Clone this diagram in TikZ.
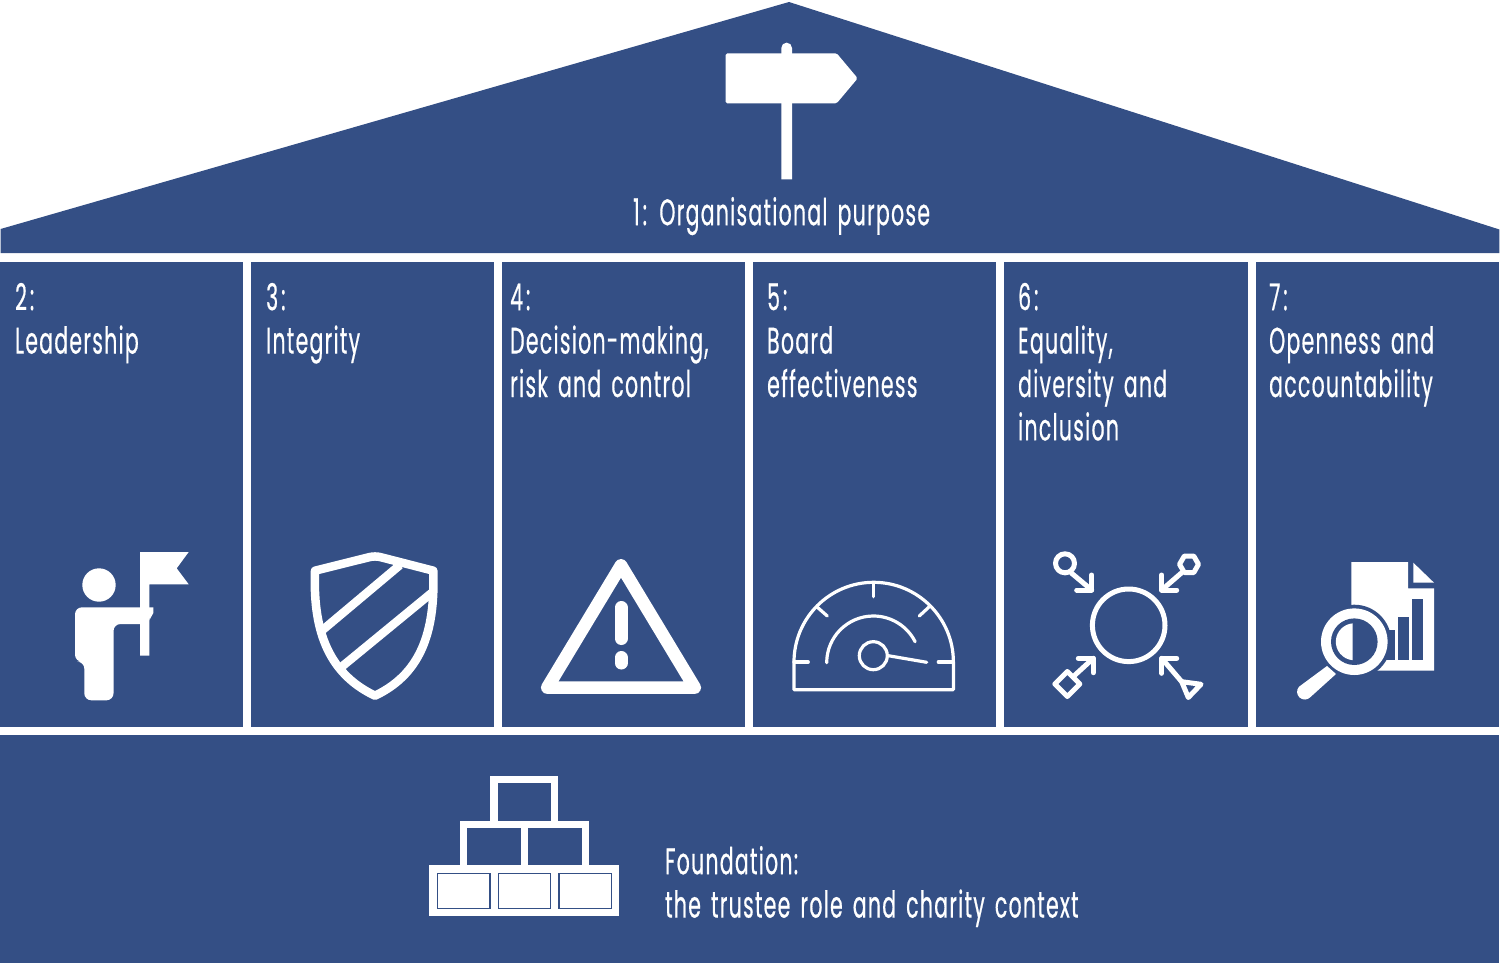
\documentclass[tikz,border=0pt]{standalone}
\usepackage{fontspec}
\newfontfamily\futfont[FakeStretch=0.55,LetterSpace=3.6,WordSpace=1.5,FakeBold=0.5]{Poppins}
\definecolor{house}{HTML}{344F85}
\newcommand{\fl}{\rule{0pt}{30pt}}
\newcommand{\num}[1]{#1\kern3pt:}
\tikzset{
  panel/.style={fill=house,draw=none},
  ink/.style={fill=white,draw=none},
  label/.style={text=white,anchor=north west,inner sep=0pt,align=left,font=\futfont\fontsize{37}{43.4}\selectfont},
  wire/.style={draw=white,fill=none,line width=#1,line join=round,line cap=round},
  wire/.default=5pt
}
\begin{document}
\begin{tikzpicture}[x=1pt,y=-1pt]
\useasboundingbox (0,0) rectangle (1500,963);
% house
\path[panel] (0.6,229) -- (789,2) -- (1499.4,229.5) -- (1499.4,253) -- (0.6,253) -- cycle;
\foreach \a/\b in {0/243,251/494,502/745,753/996,1004/1248,1256/1499.4}
  \path[panel] (\a,262) rectangle (\b,727);
\path[panel] (0,735) rectangle (1499.4,963);
% signpost
\path[ink,rounded corners=1.5pt] (725.7,53.3) -- (836.7,53.3) -- (857.7,78.3) -- (836.7,103.3) -- (725.7,103.3) -- cycle;
\path[ink] (781.3,179.3) -- (781.3,48) arc[start angle=180,end angle=0,radius=5.35pt] -- (792,179.3) -- cycle;
% person with flag
\path[ink] (99,585) circle[radius=16.7pt];
\path[ink] (140,552) -- (188.7,552) -- (176.7,568.3) -- (188.7,584.3) -- (149.3,584.3) -- (149.3,655.7) -- (140,655.7) -- cycle;
\path[ink,rounded corners=7pt] (153.3,607.3) -- (75,607.3) -- (75,661.7) -- (84.3,661.7) -- (84.3,700.3) -- (113.5,700.3) -- (113.5,624) -- (150,624) [sharp corners] -- (150,619) -- (153.3,613) -- cycle;
% shield
\draw[wire=8.5pt] (315,570.7) -- (370,557) .. controls (373,556.3) and (377,556.3) .. (380,557) -- (433.3,570.7) .. controls (435,625) and (425,672) .. (375,695.7) .. controls (325,672) and (313,625) .. (315,570.7) -- cycle;
\draw[wire=8.5pt,line cap=butt] (400,565) -- (319,633);
\draw[wire=8.5pt,line cap=butt] (433,591.8) -- (338,669.8);
% warning triangle
\draw[wire=12.7pt] (621,565.4) -- (547.3,687.6) -- (694.7,687.6) -- cycle;
\draw[wire=13pt] (621.2,607.5) -- (621.2,638.5);
\draw[wire=13pt] (621.2,657.5) -- (621.2,663);
% gauge
\draw[wire=3.2pt,line cap=butt] (794,662) arc[start angle=180,end angle=0,radius=79.7pt] -- (953.4,689.7) -- (794,689.7) -- cycle;
\draw[wire=3.2pt] (794,662) -- (808.3,662);
\draw[wire=3.2pt] (938.3,662) -- (953.3,662);
\draw[wire=3.2pt] (873.5,582.7) -- (873.5,596.7);
\draw[wire=3.2pt] (816.7,606.7) -- (827.3,616);
\draw[wire=3.2pt] (929.3,606.7) -- (919.3,616);
\draw[wire=3.2pt] (826.7,662.7) arc[start angle=180,end angle=26.7,radius=46.7pt];
\draw[wire=3.2pt] (873.3,655.7) circle[radius=14pt];
\draw[wire=3.2pt] (888.3,655.7) -- (926.7,662.3);
% equality arrows
\draw[wire] (1128.7,625.3) circle[radius=36.3pt];
\draw[wire] (1065,563.3) circle[radius=9.5pt];
\draw[wire] (1071.7,573.3) -- (1091.7,590);
\draw[wire] (1091.7,575) -- (1091.7,590) -- (1076.7,590);
\draw[wire] (1198.5,564.3) -- (1193.8,572.5) -- (1184.3,572.5) -- (1179.5,564.3) -- (1184.3,556.1) -- (1193.8,556.1) -- cycle;
\draw[wire] (1181.7,572.7) -- (1161.7,590);
\draw[wire] (1161.7,575) -- (1161.7,590) -- (1176.7,590);
\draw[wire] (1054.8,684) -- (1067.3,671.5) -- (1079.8,684) -- (1067.3,696.5) -- cycle;
\draw[wire] (1075,675) -- (1093.3,658.3);
\draw[wire] (1078.3,658.3) -- (1093.3,658.3) -- (1093.3,672.7);
\draw[wire] (1181.7,681.7) -- (1201,684.3) -- (1188.3,697.5) -- cycle;
\draw[wire] (1181.7,681.7) -- (1161.7,658.3);
\draw[wire] (1161.7,673.3) -- (1161.7,658.3) -- (1176.7,658.3);
% report with magnifier
\path[ink] (1351.3,562) -- (1408,562) -- (1408,588.3) -- (1434,588.3) -- (1434,670.7) -- (1351.3,670.7) -- cycle;
\path[ink] (1413.3,562.7) -- (1434,582.7) -- (1413.3,582.7) -- cycle;
\path[panel] (1412.3,599.3) rectangle (1422.7,660);
\path[panel] (1398.3,616.7) rectangle (1409.3,660);
\path[panel] (1384,630) rectangle (1395.3,660);
\path[panel] (1354.3,641.7) circle[radius=37pt];
\path[panel] (1340,650) rectangle (1376.7,680);
\path[ink] (1354.3,641.7) circle[radius=33.3pt];
\path[panel] (1354.3,641.7) circle[radius=23.3pt];
\path[ink] (1352.7,660.2) arc[start angle=265,end angle=95,radius=18.5pt] -- cycle;
\path[ink] (1327,666) -- (1336,674) -- (1310.5,697) arc[start angle=-42,end angle=-222,radius=7.7pt] -- cycle;
% foundation blocks
\path[ink] (429.3,865) rectangle (619.3,916);
\foreach \a/\b in {437.3/490,498.3/550.7,559/611.7}
  \draw[draw=house,line width=1.4pt] (\a,873.3) rectangle (\b,908.3);
\draw[wire=7.2pt,line cap=butt,line join=miter] (463.6,865) -- (463.6,824.3) -- (585.1,824.3) -- (585.1,865);
\draw[wire=7.2pt,line cap=butt] (524.3,824.3) -- (524.3,865);
\draw[wire=7.2pt,line cap=butt,line join=miter] (493.9,824.3) -- (493.9,779.7) -- (554.7,779.7) -- (554.7,824.3);
% labels
\node[label] (purpose) at (630,195) {\fl \kern3pt 1\kern3pt: Organisational purpose};
\node[label] (p2) at (15,280) {\fl \num{2}\\Leadership};
\node[label] (p3) at (266,280) {\fl \num{3}\\Integrity};
\node[label] (p4) at (510,280) {\fl \num{4}\\Decision-making,\\risk and control};
\node[label] (p5) at (767,280) {\fl \num{5}\\Board\\effectiveness};
\node[label] (p6) at (1018,280) {\fl \num{6}\\Equality,\\diversity and\\inclusion};
\node[label] (p7) at (1269,280) {\fl \num{7}\\Openness and\\accountability};
\node[label] (found) at (665,844) {\fl Foundation:\\the trustee role and charity context};
\end{tikzpicture}
\end{document}
